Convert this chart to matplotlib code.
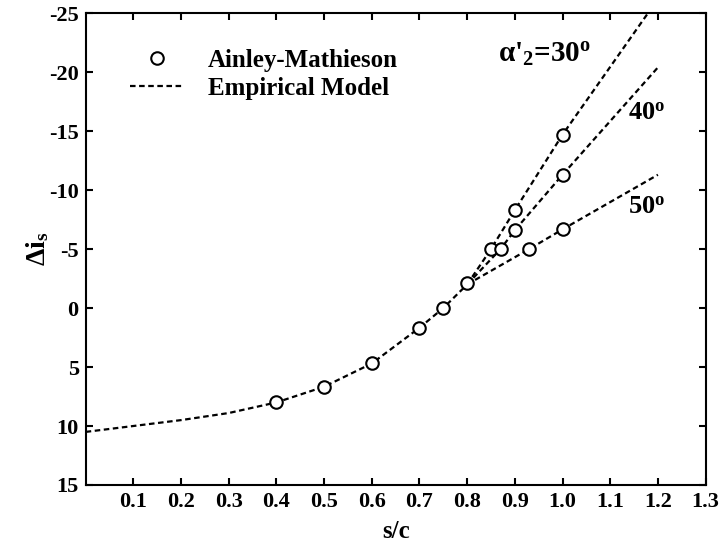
import numpy as np
import matplotlib.pyplot as plt

plt.rcParams['font.family'] = ['Liberation Serif', 'DejaVu Serif']
plt.rcParams['font.weight'] = 'bold'
plt.rcParams['axes.labelweight'] = 'bold'
plt.rcParams['axes.unicode_minus'] = False
plt.rcParams['mathtext.fontset'] = 'custom'
plt.rcParams['mathtext.rm'] = 'Liberation Serif:bold'
plt.rcParams['mathtext.it'] = 'Liberation Serif:bold'
plt.rcParams['mathtext.bf'] = 'Liberation Serif:bold'

# Ainley-Mathieson data points
am_x = [0.4, 0.5, 0.6, 0.7, 0.75, 0.8, 0.85, 0.87, 0.9, 0.9, 0.93, 1.0, 1.0, 1.0]
am_y = [8.0, 6.67, 4.7, 1.67, 0.0, -2.1, -5.0, -5.0, -6.6, -8.3, -5.0, -6.67, -11.3, -14.7]

# empirical model
base_x = [0.0, 0.1, 0.2, 0.3, 0.4, 0.5, 0.6, 0.7, 0.75, 0.8]
base_y = [10.5, 10.0, 9.5, 8.9, 8.0, 6.67, 4.7, 1.67, 0.0, -2.0]
b30_x = [0.8, 0.85, 0.9, 1.0, 1.2]
b30_y = [-2.0, -5.0, -8.3, -14.7, -26.2]
b40_x = [0.8, 0.87, 0.9, 1.0, 1.2]
b40_y = [-2.0, -5.0, -6.6, -11.3, -20.4]
b50_x = [0.8, 0.93, 1.0, 1.2]
b50_y = [-2.0, -5.0, -6.67, -11.3]

xticks = [0.1, 0.2, 0.3, 0.4, 0.5, 0.6, 0.7, 0.8, 0.9, 1.0, 1.1, 1.2, 1.3]
yticks = [-25, -20, -15, -10, -5, 0, 5, 10, 15]

fig = plt.figure(figsize=(7.2, 5.48), dpi=100)
ax = fig.add_axes([0.119, 0.115, 0.861, 0.861])

dash = (0, (2.5, 1.6))
model, = ax.plot(base_x, base_y, color='black', lw=1.6, linestyle=dash,
                 label='Empirical Model')
for bx, by in [(b30_x, b30_y), (b40_x, b40_y), (b50_x, b50_y)]:
    ax.plot(bx, by, color='black', lw=1.6, linestyle=dash)

pts, = ax.plot(am_x, am_y, 'o', ms=9, mfc='white', mec='black', mew=1.5,
               label='Ainley-Mathieson', zorder=5)

ax.set_xlim(0, 1.3)
ax.set_ylim(15, -25)
ax.set_xticks(xticks)
ax.set_xticklabels(['%.1f' % v for v in xticks])
ax.set_yticks(yticks)
ax.tick_params(direction='in', length=5, width=1.5, top=True, right=True,
               labelsize=16, pad=5)
for s in ax.spines.values():
    s.set_linewidth(1.5)

ax.set_xlabel('s/c', fontsize=18, labelpad=6)
ax.set_ylabel(r'$\Delta$i$_\mathrm{s}$', fontsize=20)
ax.yaxis.set_label_coords(-0.055, 0.5)

ax.legend(handles=[pts, model], loc='upper left', bbox_to_anchor=(0.072, 0.925),
          frameon=False, fontsize=18, numpoints=1, handlelength=2.1,
          handletextpad=1.0, labelspacing=0.2, borderpad=0, borderaxespad=0)

ax.text(0.864, -21.5, r"$\alpha$'$_2$=30$^\mathrm{o}$", fontsize=21, va='center')
ax.text(1.138, -16.5, r"40$^\mathrm{o}$", fontsize=19, va='center')
ax.text(1.138, -8.6, r"50$^\mathrm{o}$", fontsize=19, va='center')

fig.savefig('out.png', dpi=100)
